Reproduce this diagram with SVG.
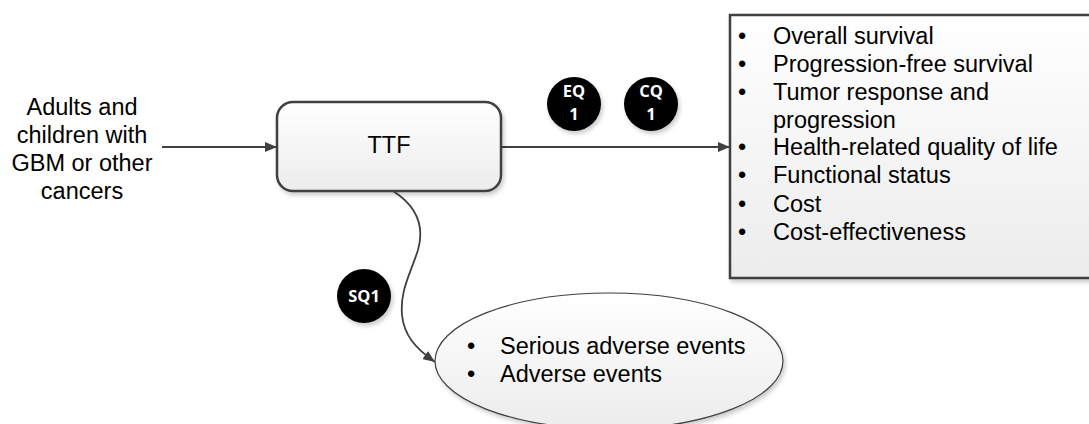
<svg xmlns="http://www.w3.org/2000/svg" width="1089" height="424" viewBox="0 0 1089 424">
<style>
.t{font-family:"Liberation Sans",Arial,sans-serif;font-size:23.5px;fill:#000}
.b{font-family:"Open Sans","Liberation Sans",sans-serif;font-size:16.5px;font-weight:bold;fill:#fff}
.c{stroke:#404040;stroke-width:1.8;fill:none}
</style>
<defs>
<linearGradient id="g" x1="0" y1="0" x2="0" y2="1">
<stop offset="0" stop-color="#ffffff"/>
<stop offset="1" stop-color="#ececec"/>
</linearGradient>
<filter id="sh" x="-10%" y="-10%" width="130%" height="130%">
<feDropShadow dx="2" dy="3" stdDeviation="2" flood-color="#000" flood-opacity="0.2"/>
</filter>
<marker id="ah" markerWidth="12" markerHeight="10" refX="12" refY="5" orient="auto" markerUnits="userSpaceOnUse">
<path d="M0,0 L12,5 L0,10 Z" fill="#404040"/>
</marker>
</defs>
<g id="connectors">
<line class="c" x1="162" y1="147" x2="277" y2="147" marker-end="url(#ah)"/>
<line class="c" x1="501" y1="147" x2="730" y2="147" marker-end="url(#ah)"/>
<path class="c" d="M393,191 C415,205 425,225 418,250 C410,275 400,290 402,315 C404,335 415,348 435,362" marker-end="url(#ah)"/>
</g>
<g id="population">
<text class="t" text-anchor="middle" x="82" y="115">Adults and</text>
<text class="t" text-anchor="middle" x="82" y="143">children with</text>
<text class="t" text-anchor="middle" x="82" y="171">GBM or other</text>
<text class="t" text-anchor="middle" x="82" y="198.5">cancers</text>
</g>
<g id="ttf">
<rect x="277" y="102" width="224" height="89" rx="16" fill="url(#g)" stroke="#404040" stroke-width="2.5" filter="url(#sh)"/>
<text class="t" text-anchor="middle" x="389" y="153">TTF</text>
</g>
<g id="outcomes">
<rect x="730" y="15" width="362" height="263" fill="url(#g)" stroke="#404040" stroke-width="2.5" filter="url(#sh)"/>
<g class="t">
<text x="738" y="43.5">•</text><text x="773" y="43.5">Overall survival</text>
<text x="738" y="71.5">•</text><text x="773" y="71.5">Progression-free survival</text>
<text x="738" y="99.5">•</text><text x="773" y="99.5">Tumor response and</text>
<text x="773" y="127.5">progression</text>
<text x="738" y="155">•</text><text x="773" y="155">Health-related quality of life</text>
<text x="738" y="183">•</text><text x="773" y="183">Functional status</text>
<text x="738" y="211.5">•</text><text x="773" y="211.5">Cost</text>
<text x="738" y="239.5">•</text><text x="773" y="239.5">Cost-effectiveness</text>
</g>
</g>
<g id="harms">
<ellipse cx="609" cy="361" rx="174" ry="68" fill="url(#g)" stroke="#404040" stroke-width="1.2" filter="url(#sh)"/>
<g class="t">
<text x="467" y="354">•</text><text x="500" y="354">Serious adverse events</text>
<text x="467" y="381.5">•</text><text x="500" y="381.5">Adverse events</text>
</g>
</g>
<g id="eq1">
<circle cx="574" cy="104" r="27" fill="#000" filter="url(#sh)"/>
<text class="b" text-anchor="middle" x="574" y="97">EQ</text>
<text class="b" text-anchor="middle" x="574" y="120">1</text>
</g>
<g id="cq1">
<circle cx="651" cy="104" r="27" fill="#000" filter="url(#sh)"/>
<text class="b" text-anchor="middle" x="651" y="97">CQ</text>
<text class="b" text-anchor="middle" x="651" y="120">1</text>
</g>
<g id="sq1">
<circle cx="364" cy="296" r="27" fill="#000" filter="url(#sh)"/>
<text class="b" text-anchor="middle" x="364" y="302">SQ1</text>
</g>
</svg>
